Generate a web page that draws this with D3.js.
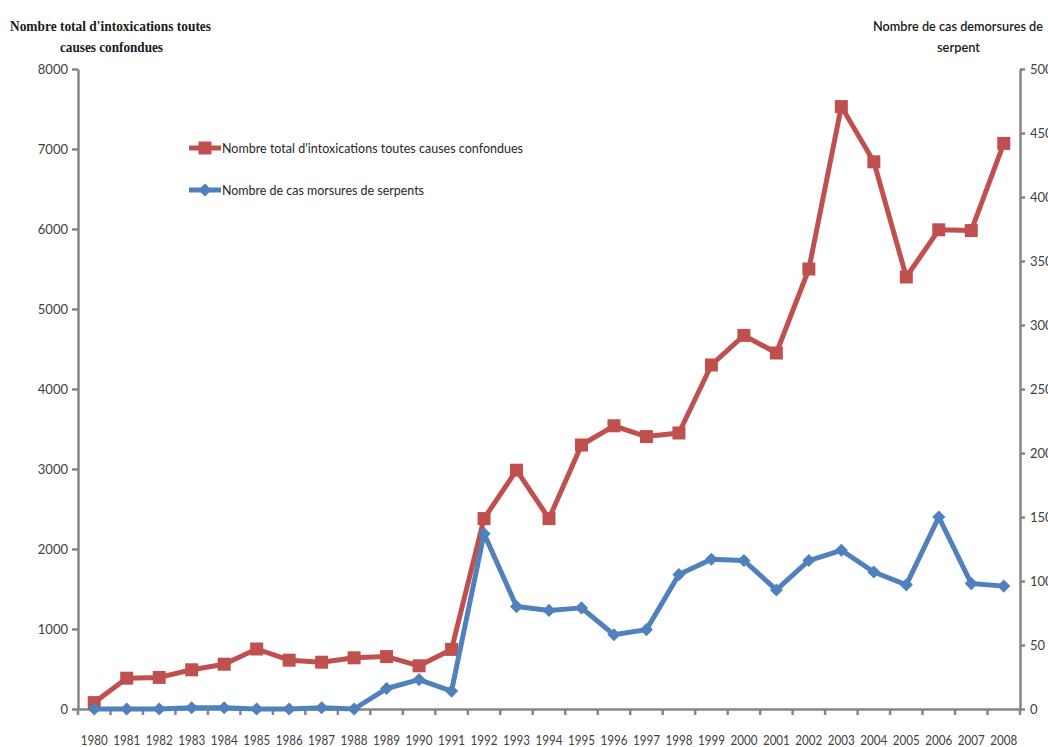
<!DOCTYPE html>
<html>
<head>
<meta charset="utf-8">
<script src="https://cdn.jsdelivr.net/npm/d3@7"></script>
<style>
  html, body { margin: 0; padding: 0; background: #fff; overflow: hidden; }
  svg { display: block; }
</style>
</head>
<body>
<svg id="chart" width="1048" height="747"></svg>
<script>
// Années (catégories de l'axe horizontal)
const years = [1980, 1981, 1982, 1983, 1984, 1985, 1986, 1987, 1988, 1989,
               1990, 1991, 1992, 1993, 1994, 1995, 1996, 1997, 1998, 1999,
               2000, 2001, 2002, 2003, 2004, 2005, 2006, 2007, 2008];

// Nombre total d'intoxications toutes causes confondues (axe de gauche)
const totalIntox = [80, 385, 395, 490, 560, 750, 610, 585, 640, 655,
                    540, 745, 2380, 2985, 2380, 3300, 3540, 3405, 3450, 4300,
                    4670, 4450, 5500, 7530, 6840, 5400, 5990, 5980, 7070];

// Nombre de cas de morsures de serpents (axe de droite)
const morsures = [0, 0, 0, 1, 1, 0, 0, 1, 0, 16,
                  23, 14, 137, 80, 77, 79, 58, 62, 105, 117,
                  116, 93, 116, 124, 107, 97, 150, 98, 96];

const leftTicks = [0, 1000, 2000, 3000, 4000, 5000, 6000, 7000, 8000];
const rightTicks = [0, 50, 100, 150, 200, 250, 300, 350, 400, 450, 500];

const seriesNames = ["Nombre total d'intoxications toutes causes confondues",
                     "Nombre de cas morsures de serpents"];

const RED = "#C0504D", BLUE = "#4F81BD", AXIS = "#868686", TXT = "#404040";
const LABEL_FONT = "Lato, 'Open Sans', sans-serif";

const svg = d3.select("#chart");
const plotLeft = 78, plotRight = 1020, plotTop = 69, plotBottom = 709;

const x = d3.scaleBand().domain(years).range([plotLeft, plotRight]).padding(0);
const yL = d3.scaleLinear().domain([0, 8000]).range([plotBottom, plotTop]);
const yR = d3.scaleLinear().domain([0, 500]).range([plotBottom, plotTop]);
const cx = d => x(d) + x.bandwidth() / 2;
const plain = d3.format("d");

// Axe de gauche
const gL = svg.append("g").attr("transform", `translate(${plotLeft},0)`)
  .call(d3.axisLeft(yL).tickValues(leftTicks).tickFormat(plain)
    .tickSize(6).tickPadding(4).tickSizeOuter(0));
// Axe de droite
const gR = svg.append("g").attr("transform", `translate(${plotRight},0)`)
  .call(d3.axisRight(yR).tickValues(rightTicks).tickFormat(plain)
    .tickSize(5).tickPadding(5).tickSizeOuter(0));
// Axe horizontal (étiquettes centrées sur les catégories)
const gB = svg.append("g").attr("transform", `translate(0,${plotBottom})`)
  .call(d3.axisBottom(x).tickSize(0).tickPadding(31).tickSizeOuter(0));

// Graduations horizontales entre les catégories
const boundaries = years.map(d => x(d)).concat([plotRight]);
gB.selectAll("line.sep").data(boundaries).enter().append("line")
  .attr("class", "sep")
  .attr("x1", d => d).attr("x2", d => d)
  .attr("y1", 0).attr("y2", 6);

[gL, gR, gB].forEach(g => {
  g.selectAll("path.domain").attr("stroke", AXIS).attr("stroke-width", 2.5);
  g.selectAll("line").attr("stroke", AXIS).attr("stroke-width", 2.5);
  g.selectAll("text").attr("fill", TXT).attr("font-family", LABEL_FONT)
    .attr("font-size", 13);
});
gB.selectAll(".tick text").attr("dy", "0.35em")
  .attr("textLength", 27).attr("lengthAdjust", "spacingAndGlyphs");

// Courbes
const lineL = d3.line().x((d, i) => cx(years[i])).y(d => yL(d));
const lineR = d3.line().x((d, i) => cx(years[i])).y(d => yR(d));

svg.append("path").datum(totalIntox)
  .attr("d", lineL).attr("fill", "none").attr("stroke", RED)
  .attr("stroke-width", 5).attr("stroke-linejoin", "round");
const sq = 13;
svg.append("g").selectAll("rect").data(totalIntox).enter().append("rect")
  .attr("x", (d, i) => cx(years[i]) - sq / 2)
  .attr("y", d => yL(d) - sq / 2)
  .attr("width", sq).attr("height", sq)
  .attr("fill", RED);

svg.append("path").datum(morsures)
  .attr("d", lineR).attr("fill", "none").attr("stroke", BLUE)
  .attr("stroke-width", 5).attr("stroke-linejoin", "round");
const diamond = d3.symbol().type(d3.symbolDiamond2).size(110);
svg.append("g").selectAll("path").data(morsures).enter().append("path")
  .attr("d", diamond)
  .attr("transform", (d, i) => `translate(${cx(years[i])},${yR(d)})`)
  .attr("fill", BLUE);

// Légende
const legend = svg.append("g");
const legendRows = [
  { y: 148, color: RED, mark: "square", text: seriesNames[0], len: 301 },
  { y: 190, color: BLUE, mark: "diamond", text: seriesNames[1], len: 202 }
];
legendRows.forEach(r => {
  legend.append("line").attr("x1", 189).attr("x2", 221)
    .attr("y1", r.y).attr("y2", r.y)
    .attr("stroke", r.color).attr("stroke-width", 5);
  if (r.mark === "square") {
    legend.append("rect").attr("x", 205 - sq / 2).attr("y", r.y - sq / 2)
      .attr("width", sq).attr("height", sq).attr("fill", r.color);
  } else {
    legend.append("path").attr("d", diamond)
      .attr("transform", `translate(205,${r.y})`).attr("fill", r.color);
  }
  legend.append("text").attr("x", 222).attr("y", r.y + 5)
    .attr("font-family", LABEL_FONT).attr("font-size", 13)
    .attr("fill", "#262626")
    .attr("textLength", r.len).attr("lengthAdjust", "spacingAndGlyphs")
    .text(r.text);
});

// Titres des axes
const tl = svg.append("g").attr("font-family", "'Liberation Serif', 'DejaVu Serif', serif")
  .attr("font-weight", "bold").attr("font-size", 14).attr("fill", "#1a1a1a");
tl.append("text").attr("x", 10).attr("y", 31)
  .attr("textLength", 201).attr("lengthAdjust", "spacingAndGlyphs")
  .text("Nombre total d'intoxications toutes");
tl.append("text").attr("x", 60).attr("y", 52)
  .attr("textLength", 103).attr("lengthAdjust", "spacingAndGlyphs")
  .text("causes confondues");

const tr = svg.append("g").attr("font-family", LABEL_FONT)
  .attr("font-size", 13.5).attr("fill", "#1a1a1a").attr("font-weight", 600);
tr.append("text").attr("x", 873).attr("y", 31)
  .attr("textLength", 170).attr("lengthAdjust", "spacingAndGlyphs")
  .text("Nombre de cas  demorsures de");
tr.append("text").attr("x", 937).attr("y", 52)
  .attr("textLength", 43).attr("lengthAdjust", "spacingAndGlyphs")
  .text("serpent");
</script>
</body>
</html>
